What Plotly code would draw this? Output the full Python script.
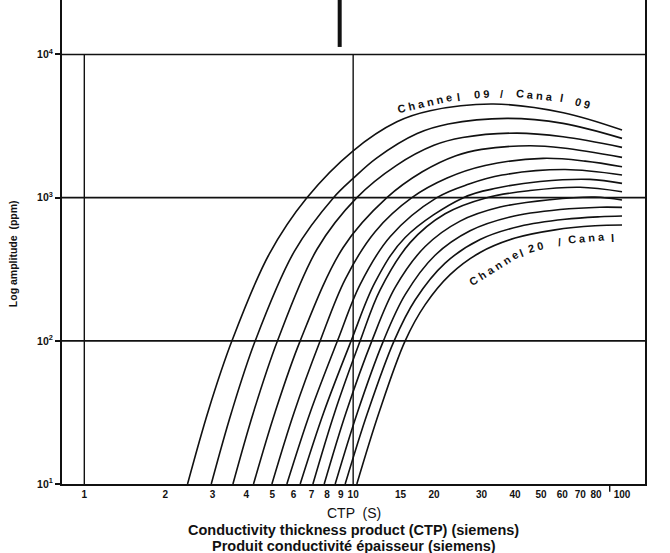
import math
import plotly.graph_objects as go

# ---------------- data ----------------
channels = ["09", "10", "11", "12", "13", "14", "15", "16", "17", "18", "19", "20"]

ctp_ch09 = [2.421, 2.899, 3.541, 4.872, 6.729, 10.0, 14.54, 19.33, 33.24, 60.51, 100]
amp_ch09 = [10, 32.9, 100, 404, 1000, 2126, 3388, 4045, 4505, 3917, 2965]

ctp_ch10 = [2.966, 3.526, 4.322, 6.035, 8.45, 10.0, 12.22, 17.30, 22.57, 37.37, 60.36, 100]
amp_ch10 = [10, 31.6, 100, 420, 1000, 1364, 1891, 2807, 3271, 3579, 3303, 2595]

ctp_ch11 = [3.571, 4.256, 5.231, 7.346, 10.32, 14.50, 19.97, 25.53, 40.61, 60.36, 100]
amp_ch11 = [10, 31.6, 100, 438, 1000, 1681, 2319, 2628, 2825, 2662, 2246]

ctp_ch12 = [4.26, 5.12, 6.353, 9.18, 13.345, 18.08, 24.11, 30.02, 45.5, 60.36, 100]
amp_ch12 = [10, 31.6, 100, 449, 1000, 1517, 1965, 2175, 2304, 2221, 1912]

ctp_ch13 = [4.986, 6.03, 7.54, 9.339, 12.07, 16.53, 22.36, 30.96, 50.86, 72.88, 100]
amp_ch13 = [10, 31.6, 100, 269, 579, 1000, 1371, 1676, 1882, 1801, 1644]

ctp_ch14 = [5.668, 6.921, 8.744, 10.62, 13.72, 20.47, 26.99, 35.8, 61.4, 100]
amp_ch14 = [10, 31.6, 100, 248, 534, 1000, 1245, 1438, 1571, 1438]

ctp_ch15 = [6.353, 7.77, 9.831, 12.07, 15.61, 25.7, 34.3, 49.57, 76.03, 100]
amp_ch15 = [10, 31.6, 100, 257, 527, 1000, 1167, 1296, 1342, 1259]

ctp_ch16 = [7.084, 8.536, 10.62, 12.6, 16.29, 21.98, 31.41, 45.5, 69.82, 100]
amp_ch16 = [10, 31.6, 100, 227, 485, 772, 1000, 1121, 1182, 1100]

ctp_ch17 = [7.804, 9.41, 11.74, 14.33, 18.53, 24.99, 35.19, 54.0, 79.36, 100]
amp_ch17 = [10, 31.6, 100, 236, 456, 686, 860, 968, 1010, 962]

ctp_ch18 = [8.574, 10.37, 12.96, 15.61, 20.17, 27.22, 38.34, 58.83, 82.82, 100]
amp_ch18 = [10, 31.6, 100, 210, 396, 587, 733, 826, 858, 856]

ctp_ch19 = [9.339, 11.32, 14.2, 17.0, 21.98, 29.66, 41.77, 61.4, 82.82, 100]
amp_ch19 = [10, 31.6, 100, 193, 349, 510, 632, 707, 736, 744]

ctp_ch20 = [10.32, 12.48, 15.61, 18.53, 22.94, 29.66, 40.02, 56.36, 79.36, 100]
amp_ch20 = [10, 31.6, 100, 179, 290, 414, 522, 596, 636, 644]

ctp_series = [ctp_ch09, ctp_ch10, ctp_ch11, ctp_ch12, ctp_ch13, ctp_ch14,
              ctp_ch15, ctp_ch16, ctp_ch17, ctp_ch18, ctp_ch19, ctp_ch20]
amp_series = [amp_ch09, amp_ch10, amp_ch11, amp_ch12, amp_ch13, amp_ch14,
              amp_ch15, amp_ch16, amp_ch17, amp_ch18, amp_ch19, amp_ch20]

x_tick_values = [1, 2, 3, 4, 5, 6, 7, 8, 9, 10, 15, 20, 30, 40, 50, 60, 70, 80, 100]
x_tick_labels = ["1", "2", "3", "4", "5", "6", "7", "8", "9", "10", "15", "20",
                 "30", "40", "50", "60", "70", "80", "100"]
y_tick_values = [10, 100, 1000, 10000]
y_tick_labels = ["10<sup>1</sup>", "10<sup>2</sup>", "10<sup>3</sup>", "10<sup>4</sup>"]

# curved channel labels: (text, ctp, amplitude, angle)
label_top = [("C h a n n e", 18.5, 4550, -13), ("l", 24.6, 5070, -8), ("0 9", 30.0, 5290, -3),
             ("/", 35.6, 5340, 0), ("C a n a", 47.3, 5230, 6), ("l", 59.8, 4940, 10),
             ("0 9", 71.0, 4600, 15)]
label_bottom = [("C h a n n e", 33.4, 321, -32), ("l", 42.3, 408, -22), ("2 0", 47.8, 454, -15),
                ("/", 58.5, 492, -8), ("C a n a", 73.8, 520, -5), ("l", 92.4, 520, -3)]

FONT = "Liberation Sans, Arial, sans-serif"
INK = "#111111"

fig = go.Figure()
for ch, xs, ys in zip(channels, ctp_series, amp_series):
    fig.add_trace(go.Scatter(
        x=xs, y=ys, mode="lines", name="Channel " + ch,
        line=dict(color=INK, width=1.6, shape="spline", smoothing=1.0),
        showlegend=False, hoverinfo="x+y+name"))

shapes = []
for yv in [100, 1000, 10000]:
    shapes.append(dict(type="line", xref="paper", yref="y", x0=0, x1=1, y0=yv, y1=yv,
                       line=dict(color=INK, width=1.6)))
for xv in [1, 10]:
    shapes.append(dict(type="line", xref="x", yref="y", x0=xv, x1=xv, y0=10, y1=10000,
                       line=dict(color=INK, width=1.4)))
shapes.append(dict(type="line", xref="x", yref="paper", x0=8.91, x1=8.91, y0=0.903, y1=1.0,
                   line=dict(color=INK, width=4)))
shapes.append(dict(type="line", xref="x", yref="paper", x0=90, x1=90, y0=0, y1=-0.016,
                   line=dict(color=INK, width=1.4)))

annotations = []
for txt, cx, cy, ang in label_top + label_bottom:
    annotations.append(dict(text="<b>" + txt + "</b>", x=math.log10(cx), y=math.log10(cy),
                            xref="x", yref="y", showarrow=False, textangle=ang,
                            xanchor="center", yanchor="middle",
                            font=dict(family=FONT, size=11, color=INK)))

annotations += [
    dict(text="CTP  (S)", x=0.5, y=-0.06, xref="paper", yref="paper", showarrow=False,
         xanchor="center", yanchor="middle", font=dict(family=FONT, size=14, color=INK)),
    dict(text="<b>Conductivity thickness product (CTP) (siemens)</b>", x=0.5, y=-0.096,
         xref="paper", yref="paper", showarrow=False, xanchor="center", yanchor="middle",
         font=dict(family=FONT, size=14.5, color=INK)),
    dict(text="<b>Produit conductivité épaisseur (siemens)</b>", x=0.5, y=-0.129,
         xref="paper", yref="paper", showarrow=False, xanchor="center", yanchor="middle",
         font=dict(family=FONT, size=14.5, color=INK)),
    dict(text="<b>Log amplitude  (ppm)</b>", x=-0.084, y=0.475, xref="paper", yref="paper",
         showarrow=False, textangle=-90, xanchor="center", yanchor="middle",
         font=dict(family=FONT, size=10.5, color=INK)),
]

fig.update_layout(
    width=670, height=553,
    margin=dict(l=62, r=25, t=0, b=69),
    paper_bgcolor="white", plot_bgcolor="white",
    shapes=shapes, annotations=annotations,
    font=dict(family=FONT, color=INK),
    xaxis=dict(type="log", range=[-0.083, 2.0855], tickvals=x_tick_values,
               ticktext=["<b>" + t + "</b>" for t in x_tick_labels], ticks="",
               showgrid=False, zeroline=False,
               showline=True, linecolor=INK, linewidth=2,
               tickfont=dict(family=FONT, size=10, color=INK)),
    yaxis=dict(type="log", range=[1, 4.3806], tickvals=y_tick_values,
               ticktext=["<b>" + t + "</b>" for t in y_tick_labels],
               ticks="outside", ticklen=5, tickcolor=INK, tickwidth=1.5,
               showgrid=False, zeroline=False, showline=True, mirror=True,
               linecolor=INK, linewidth=2,
               tickfont=dict(family=FONT, size=10.5, color=INK)),
)

fig.write_html("out.html", config={"displayModeBar": False},
               post_script="document.body.style.margin='0px';")
